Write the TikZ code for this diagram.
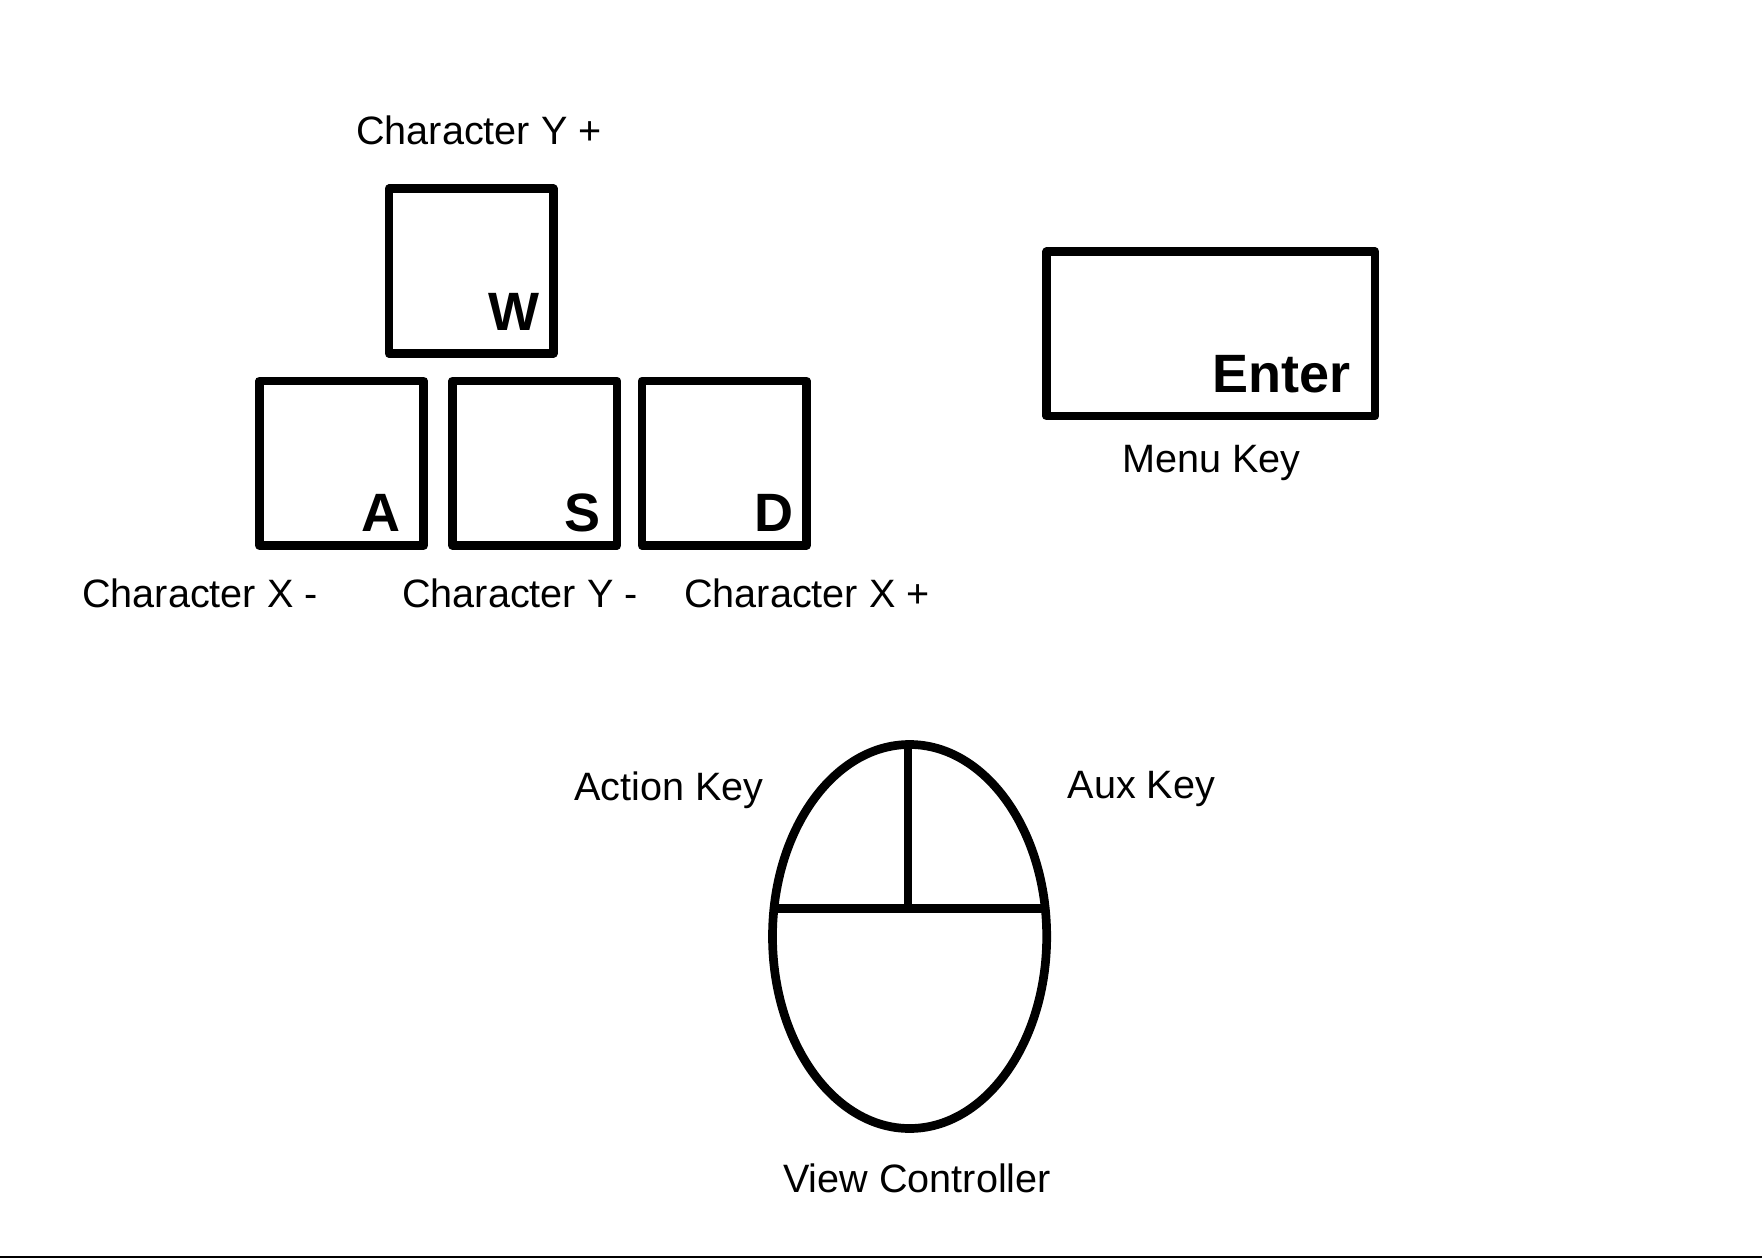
\documentclass[tikz,border=0pt]{standalone}
\usepackage{fontspec}
\setmainfont{Liberation Sans}
\usetikzlibrary{positioning,shapes.geometric}
\tikzset{
  keybox/.style={draw=black,line width=8.7pt,line join=round,inner sep=0pt,outer sep=0pt},
  keyname/.style={font=\fontsize{54}{54}\selectfont\bfseries,inner sep=0pt,anchor=base east},
  caption/.style={font=\fontsize{39.6}{39.6}\selectfont,inner sep=0pt,anchor=base west},
  mouseline/.style={line width=8.7pt}
}
\newcommand{\keycap}[7]{%
  \node[keybox,anchor=north west,minimum width=#4,minimum height=#5] (#1) at (#2,#3) {};%
  \node[keyname] (#1name) at (#6,#7) {\MakeUppercase#1};%
}
\begin{document}
\begin{tikzpicture}[x=1pt,y=-1pt]
  \useasboundingbox (0,0) rectangle (1762,1258);
  \keycap{w}{389}{188.8}{164.3}{164.6}{540}{330.7}
  \keycap{a}{259.4}{381}{164.3}{164.5}{400.5}{531}
  \keycap{s}{452.5}{381}{164.5}{164.5}{600.5}{531}
  \keycap{d}{642}{381}{164.5}{164.5}{793.5}{531}
  \node[keybox,anchor=north west,minimum width=328.3,minimum height=164.3] (enter) at (1046.7,251.7) {};
  \node[keyname] (entername) at (1351,392.7) {Enter};
  % mouse
  \node[keybox,ellipse,minimum width=274.2,minimum height=384] (mouse) at (909.6,936.5) {};
  \coordinate (top) at (908,746);
  \coordinate (split) at (908,908.8);
  \coordinate (splitl) at (773.9,908.8);
  \coordinate (splitr) at (1045.3,908.8);
  \draw[mouseline] (splitl) -- (splitr);
  \draw[mouseline] (top) -- (split);
  \node[caption] (yplus) at (356,144) {Character Y +};
  \node[caption] (xminus) at (82,607.5) {Character X -};
  \node[caption] (yminus) at (402,607.5) {Character Y -};
  \node[caption] (xplus) at (684,607.5) {Character X +};
  \node[caption] (menu) at (1122,472) {Menu Key};
  \node[caption] (action) at (574,800) {Action Key};
  \node[caption] (aux) at (1067.5,798) {Aux Key};
  \node[caption] (view) at (783,1192) {View Controller};
  \coordinate (rulel) at (0,1256.8);
  \coordinate (ruler) at (1762,1256.8);
  \draw[line width=2.5pt] (rulel) -- (ruler);
\end{tikzpicture}
\end{document}
